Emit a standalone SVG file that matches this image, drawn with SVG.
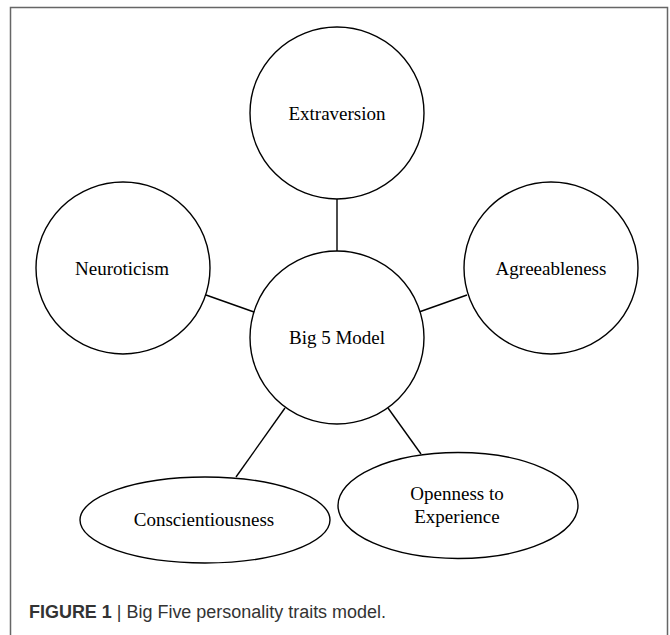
<svg xmlns="http://www.w3.org/2000/svg" width="670" height="635" viewBox="0 0 670 635">
<style>
.n{fill:#fff;stroke:#000;stroke-width:1.4}
.c{stroke:#000;stroke-width:1.4;fill:none}
.t{font-family:"Liberation Serif","Times New Roman",serif;font-size:19px;fill:#000;text-anchor:middle}
.cap{font-family:"Liberation Sans",Arial,sans-serif;font-size:18px;fill:#333}
</style>
<rect x="0" y="0" width="670" height="635" fill="#fff"/>
<path d="M10.5 640 V7.5 H667.5 V640" fill="none" stroke="#666" stroke-width="1.5"/>
<g id="connectors">
<line class="c" x1="337" y1="199" x2="337" y2="251"/>
<line class="c" x1="206" y1="295" x2="254" y2="312"/>
<line class="c" x1="467" y1="295" x2="419" y2="312"/>
<line class="c" x1="285" y1="408" x2="236" y2="477"/>
<line class="c" x1="388" y1="408" x2="421" y2="454"/>
</g>
<g id="extraversion">
<ellipse class="n" cx="337" cy="113" rx="87" ry="86"/>
<text class="t" x="337" y="120">Extraversion</text>
</g>
<g id="neuroticism">
<ellipse class="n" cx="123" cy="268" rx="87" ry="86"/>
<text class="t" x="122" y="275">Neuroticism</text>
</g>
<g id="agreeableness">
<ellipse class="n" cx="551" cy="268" rx="87" ry="86"/>
<text class="t" x="551" y="275">Agreeableness</text>
</g>
<g id="big5">
<ellipse class="n" cx="337" cy="337.5" rx="87" ry="86.5"/>
<text class="t" x="337" y="344">Big 5 Model</text>
</g>
<g id="conscientiousness">
<ellipse class="n" cx="205" cy="520" rx="125" ry="43"/>
<text class="t" x="204" y="526">Conscientiousness</text>
</g>
<g id="openness">
<ellipse class="n" cx="458" cy="505.5" rx="120" ry="53"/>
<text class="t" x="457" y="500">Openness to</text>
<text class="t" x="457" y="523">Experience</text>
</g>
<text class="cap" x="29" y="618" textLength="357" lengthAdjust="spacingAndGlyphs"><tspan font-weight="bold">FIGURE 1</tspan> | Big Five personality traits model.</text>
</svg>
